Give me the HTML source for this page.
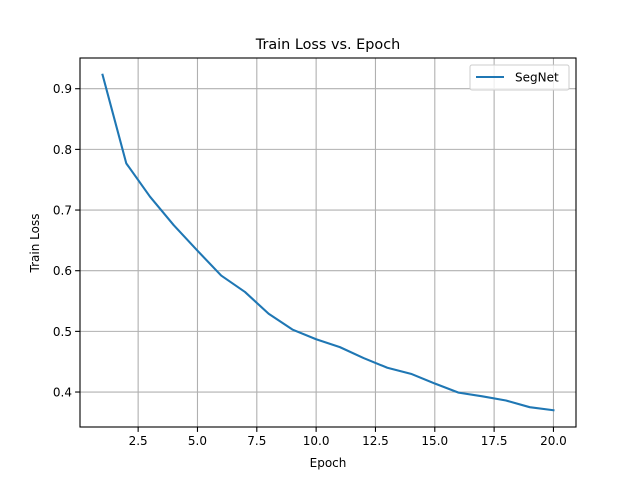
<!DOCTYPE html>
<html><head><meta charset="utf-8"><style>
body{margin:0;background:#fff;}
svg text{font-family:"DejaVu Sans","Liberation Sans",sans-serif;fill:#000;}
</style></head><body>
<svg id="chart" width="640" height="480" xmlns="http://www.w3.org/2000/svg">
<rect width="640" height="480" fill="#fff"/>
<g id="grid"></g>
<g id="ticks"></g>
<path id="line" fill="none" stroke="#1f77b4" stroke-width="2.1" stroke-linejoin="round" stroke-linecap="square"/>
<rect x="80" y="58" width="496" height="369" fill="none" stroke="#000" stroke-width="1.1"/>
<text x="328" y="49" font-size="14.4" text-anchor="middle">Train Loss vs. Epoch</text>
<text x="328" y="467" font-size="12" text-anchor="middle">Epoch</text>
<text x="0" y="0" font-size="12" text-anchor="middle" transform="translate(39,243) rotate(-90)">Train Loss</text>
<g>
<rect x="470" y="65" width="99" height="25" rx="2" fill="#fff" fill-opacity="0.8" stroke="#ccc" stroke-width="1"/>
<line x1="476" y1="77" x2="504" y2="77" stroke="#1f77b4" stroke-width="2.1"/>
<text x="515" y="81.5" font-size="12">SegNet</text>
</g>
</svg>
<script>
const epochs=[1,2,3,4,5,6,7,8,9,10,11,12,13,14,15,16,17,18,19,20];
const losses=[0.923,0.777,0.722,0.675,0.633,0.592,0.565,0.529,0.503,0.487,0.474,0.456,0.440,0.430,0.414,0.399,0.393,0.386,0.375,0.370];
const xTicks=[2.5,5.0,7.5,10.0,12.5,15.0,17.5,20.0];
const yTicks=[0.4,0.5,0.6,0.7,0.8,0.9];
const L=80,R=576,T=58,B=427;
const xmin=Math.min(...epochs),xmax=Math.max(...epochs),xm=(xmax-xmin)*0.05;
const ymin=Math.min(...losses),ymax=Math.max(...losses),ym=(ymax-ymin)*0.05;
const sx=v=>L+(v-(xmin-xm))/((xmax+xm)-(xmin-xm))*(R-L);
const sy=v=>B-(v-(ymin-ym))/((ymax+ym)-(ymin-ym))*(B-T);
const NS="http://www.w3.org/2000/svg";
const grid=document.getElementById('grid'),ticks=document.getElementById('ticks');
function mk(tag,attrs,parent){const e=document.createElementNS(NS,tag);for(const k in attrs)e.setAttribute(k,attrs[k]);parent.appendChild(e);return e;}
xTicks.forEach(v=>{const x=sx(v);
 const g=mk('line',{x1:x,x2:x,y1:T,y2:B,stroke:'#b0b0b0','stroke-width':1.1},grid);
 
 
 mk('line',{x1:x,x2:x,y1:B,y2:B+4.9,stroke:'#000','stroke-width':1.1},ticks);
 const t=mk('text',{x:x,y:B+18,'font-size':12,'text-anchor':'middle'},ticks);t.textContent=v.toFixed(1);
 
 
});
yTicks.forEach(v=>{const y=sy(v);
 const g=mk('line',{x1:L,x2:R,y1:y,y2:y,stroke:'#b0b0b0','stroke-width':1.1},grid);
 
 
 mk('line',{x1:L-4.9,x2:L,y1:y,y2:y,stroke:'#000','stroke-width':1.1},ticks);
 const t=mk('text',{x:L-8,y:y+4.5,'font-size':12,'text-anchor':'end'},ticks);t.textContent=v.toFixed(1);
 
 
});
document.getElementById('line').setAttribute('d',epochs.map((e,i)=>(i?'L':'M')+sx(e).toFixed(2)+','+sy(losses[i]).toFixed(2)).join(' '));
</script>
</body></html>
